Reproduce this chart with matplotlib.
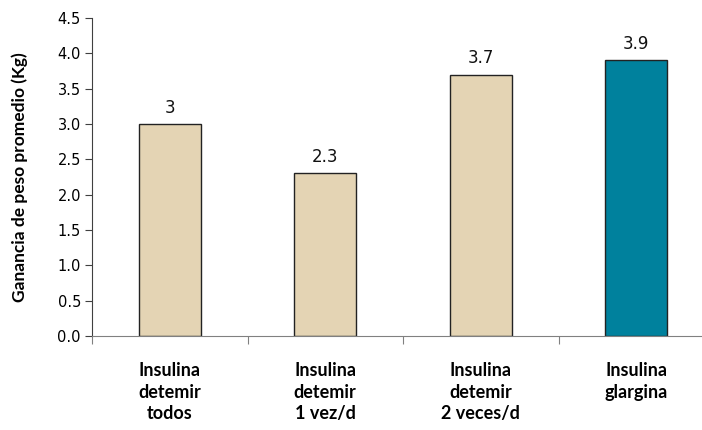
import matplotlib.pyplot as plt
import numpy as np

categories = ["Insulina\ndetemir\ntodos", "Insulina\ndetemir\n1 vez/d",
              "Insulina\ndetemir\n2 veces/d", "Insulina\nglargina"]
values = [3.0, 2.3, 3.7, 3.9]
value_labels = ["3", "2.3", "3.7", "3.9"]
colors = ["#E4D4B4", "#E4D4B4", "#E4D4B4", "#00819D"]

fig = plt.figure(figsize=(7.02, 4.30), dpi=100)
ax = fig.add_axes([92 / 702, 94 / 430, 622 / 702, 318 / 430])

x = np.arange(len(categories))
ax.bar(x, values, width=0.4, color=colors, edgecolor="#222222", linewidth=1.0)

for xi, v, lab in zip(x, values, value_labels):
    ax.text(xi, v + 0.1, lab, ha="center", va="bottom", fontsize=12,
            family="DejaVu Sans", color="#111111")

ax.set_xlim(-0.5, len(categories) - 0.5)
ax.set_ylim(0, 4.5)
ax.set_yticks(np.arange(0, 4.51, 0.5))
ax.set_yticklabels([f"{t:.1f}" for t in np.arange(0, 4.51, 0.5)], fontsize=10.5)

# category boundaries carry the ticks, labels sit at centres
ax.set_xticks(np.arange(-0.5, len(categories), 1.0))
ax.set_xticklabels([])
ax.set_xticks(x, minor=True)
ax.set_xticklabels(categories, minor=True, fontsize=13, fontweight="bold",
                   family="Lato", linespacing=1.3)
ax.tick_params(axis="x", which="minor", length=0, pad=19)
ax.tick_params(axis="x", which="major", length=6, color="#808080")
ax.tick_params(axis="y", length=5, color="#404040", pad=3)

ax.spines["top"].set_visible(False)
ax.spines["right"].set_visible(False)
ax.spines["bottom"].set_color("#808080")
ax.spines["left"].set_color("#404040")

ax.set_ylabel("Ganancia de peso promedio (Kg)", fontsize=12.5, fontweight="bold",
              family="Lato")
ax.yaxis.set_label_coords(-0.103, 0.5)

fig.savefig("out.png", dpi=100)
